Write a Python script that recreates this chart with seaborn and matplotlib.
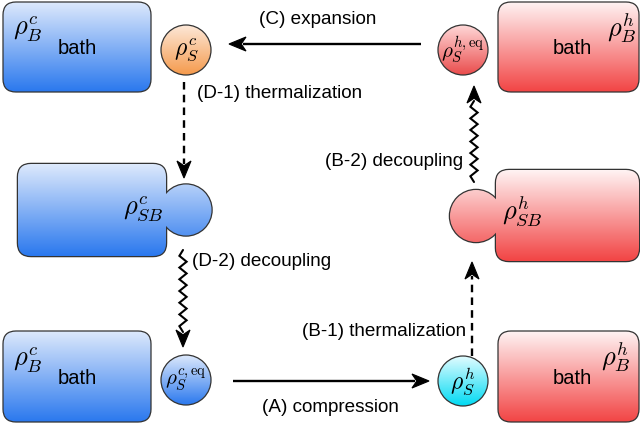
import numpy as np
import matplotlib
matplotlib.use("Agg")
import matplotlib.pyplot as plt
from matplotlib.patches import Circle, FancyBboxPatch, Polygon
import seaborn as sns

# labels of the cycle
bath_cold = r"$\rho_B^c$"
bath_hot = r"$\rho_B^h$"
bath_word = "bath"
sys_labels = [r"$\rho_S^c$", r"$\rho_S^{h,\mathrm{eq}}$", r"$\rho_S^{c,\mathrm{eq}}$", r"$\rho_S^h$"]
joint_labels = [r"$\rho_{SB}^c$", r"$\rho_{SB}^h$"]
step_labels = ["(C) expansion", "(D-1) thermalization", "(D-2) decoupling",
               "(A) compression", "(B-1) thermalization", "(B-2) decoupling"]

sns.set_theme(style="white")
plt.rcParams['font.family'] = ['Liberation Sans', 'DejaVu Sans']
plt.rcParams['mathtext.fontset'] = 'cm'
plt.rcParams['text.color'] = 'black'

BLUE = ('#dde9fc', '#2a78ee')
RED = ('#fff3f3', '#f24444')
ORANGE = ('#fde8d8', '#f59a4c')
PINK = ('#ffd8d8', '#ea4c4c')
CYAN = ('#e2fcff', '#00daf3')
EDGE = '#333333'

fig = plt.figure(figsize=(6.4, 4.33), dpi=100)
ax = fig.add_axes([0, 0, 1, 1])


def grad(patch, cols, box, z=2):
    cmap = sns.blend_palette(list(cols), n_colors=256, as_cmap=True)
    x0, x1, y0, y1 = box
    im = ax.imshow(np.linspace(0, 1, 256)[:, None], cmap=cmap, extent=(x0, x1, y1, y0),
                   origin='upper', aspect='auto', interpolation='bilinear', zorder=z)
    patch.set_transform(ax.transData)
    im.set_clip_path(patch)


def rbox(x0, y0, x1, y1):
    return FancyBboxPatch((x0, y0), x1 - x0, y1 - y0, boxstyle="round,pad=0,rounding_size=13")


def bath(x0, y0, x1, y1, cols):
    grad(rbox(x0, y0, x1, y1), cols, (x0, x1, y0, y1))
    p = rbox(x0, y0, x1, y1)
    p.set(facecolor='none', edgecolor=EDGE, lw=0.9, zorder=4)
    ax.add_patch(p)


def ball(cx, cy, r, cols, label, fs):
    grad(Circle((cx, cy), r), cols, (cx - r, cx + r, cy - r, cy + r))
    ax.add_patch(Circle((cx, cy), r, facecolor='none', edgecolor=EDGE, lw=0.9, zorder=4))
    ax.text(cx, cy, label, fontsize=fs, ha='center', va='center', zorder=5)


def joint(x0, y0, x1, y1, cx, cy, r, cols):
    box = (min(x0, cx - r), max(x1, cx + r), min(y0, cy - r), max(y1, cy + r))
    # outlines below, fills on top hide the inner seams
    p = rbox(x0, y0, x1, y1)
    p.set(facecolor='none', edgecolor=EDGE, lw=1.8, zorder=1)
    ax.add_patch(p)
    ax.add_patch(Circle((cx, cy), r, facecolor='none', edgecolor=EDGE, lw=1.8, zorder=1))
    grad(rbox(x0, y0, x1, y1), cols, box)
    grad(Circle((cx, cy), r), cols, box)


def head(tip, d, L=17, W=14):
    tip = np.array(tip, float)
    d = np.array(d, float)
    n = np.array([-d[1], d[0]])
    pts = [tip, tip - L * d + W / 2 * n, tip - 0.72 * L * d, tip - L * d - W / 2 * n]
    ax.add_patch(Polygon(pts, closed=True, facecolor='black', edgecolor='black', lw=0.8, zorder=6))


def straight(p0, tip, dashed=False):
    d = np.array(tip, float) - np.array(p0, float)
    d = d / np.linalg.norm(d)
    end = np.array(tip) - 14 * d
    ls = (0, (3.2, 2.2)) if dashed else '-'
    ax.plot([p0[0], end[0]], [p0[1], end[1]], color='black', lw=1.7, ls=ls, zorder=6,
            solid_capstyle='butt', dash_capstyle='butt')
    head(tip, d)


def wavy(x, y0, tip):
    sgn = 1 if tip > y0 else -1
    y1 = tip - sgn * 15
    n = int(round(abs(y1 - y0) / 6.0))
    ys = np.linspace(y0, y1, n + 1)
    xs = x + 3.6 * np.array([(-1) ** i for i in range(n + 1)])
    xs[0] = x
    xs[-1] = x
    ax.plot(xs, ys, color='black', lw=1.5, zorder=6, solid_joinstyle='miter')
    head((x, tip), (0, sgn))


# baths
bath(3, 2, 151, 92, BLUE)
bath(3, 331, 151, 422, BLUE)
bath(498, 2, 639, 92, RED)
bath(498, 331, 639, 422, RED)
for y in (29, 360):
    ax.text(13, y, bath_cold, fontsize=19, ha='left', va='center', zorder=5)
    ax.text(77, y + 19, bath_word, fontsize=14.5, ha='center', va='center', zorder=5)
ax.text(622, 28, bath_hot, fontsize=19, ha='center', va='center', zorder=5)
ax.text(616, 357, bath_hot, fontsize=19, ha='center', va='center', zorder=5)
ax.text(572, 48, bath_word, fontsize=14.5, ha='center', va='center', zorder=5)
ax.text(572, 379, bath_word, fontsize=14.5, ha='center', va='center', zorder=5)

# system + bath in contact
joint(18, 164, 166, 256, 186, 210, 25.5, BLUE)
ax.text(164, 209, joint_labels[0], fontsize=19, ha='right', va='center', zorder=5)
joint(496, 170, 639, 261, 476, 216, 26, RED)
ax.text(502, 211, joint_labels[1], fontsize=19, ha='left', va='center', zorder=5)

# isolated systems
ball(186, 50, 25, ORANGE, sys_labels[0], 17)
ball(463, 50, 25, PINK, sys_labels[1], 15)
ball(186, 380, 25, BLUE, sys_labels[2], 15)
ball(463, 381, 25, CYAN, sys_labels[3], 17)

# processes
straight((421, 44), (229, 44))
ax.text(318, 20, step_labels[0], fontsize=13.6, ha='center', va='center')
straight((184, 82), (184, 178), dashed=True)
ax.text(197, 93, step_labels[1], fontsize=13.6, ha='left', va='center')
wavy(183, 250, 347)
ax.text(192, 261, step_labels[2], fontsize=13.6, ha='left', va='center')
straight((233, 381), (429, 381))
ax.text(330, 408, step_labels[3], fontsize=13.6, ha='center', va='center')
straight((472, 356), (472, 262), dashed=True)
ax.text(466, 332, step_labels[4], fontsize=13.6, ha='right', va='center')
wavy(474, 182, 86)
ax.text(463, 162, step_labels[5], fontsize=13.6, ha='right', va='center')

ax.set_xlim(0, 640)
ax.set_ylim(433, 0)
ax.axis('off')
fig.savefig("out.png", dpi=100)
